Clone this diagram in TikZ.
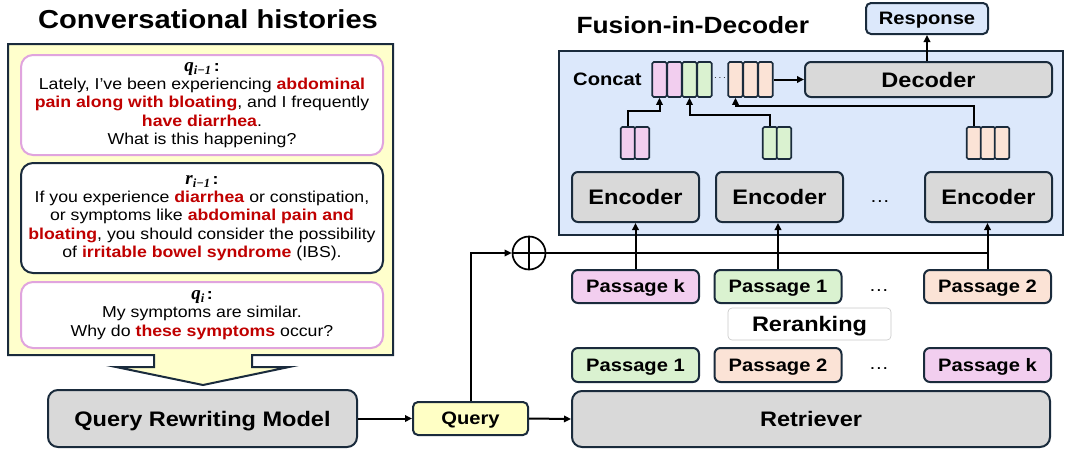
\documentclass[tikz,border=0pt]{standalone}
\usepackage{fontspec}
\setmainfont{Liberation Sans}[FakeStretch=1.12]
\newfontfamily\serifbi{Liberation Serif}[BoldItalicFont={* Bold Italic}]
\usetikzlibrary{arrows.meta}
\definecolor{darkb}{HTML}{1A2B3C}
\definecolor{yellowp}{HTML}{FFFFCC}
\definecolor{queryf}{HTML}{FFFFC5}
\definecolor{bluef}{HTML}{DCE8FB}
\definecolor{grayf}{HTML}{D9D9D9}
\definecolor{pinkf}{HTML}{F2CEEF}
\definecolor{greenf}{HTML}{DAF2D0}
\definecolor{orangef}{HTML}{FBE3D6}
\definecolor{pinkb}{HTML}{E0A4DE}
\definecolor{redt}{HTML}{C00000}
\definecolor{rerankb}{HTML}{C8C8C8}
\newcommand{\redb}[1]{\textcolor{redt}{\textbf{#1}}}
\newcommand{\qlab}[2]{{\fontsize{19}{18.3}\selectfont\serifbi\bfseries\itshape #1}\raisebox{-3pt}{\fontsize{12.5}{14}\selectfont\serifbi\bfseries\itshape #2}\,\textbf{:}}
\begin{document}
\begin{tikzpicture}[x=1pt,y=-1pt,
  box/.style={draw=darkb, line width=2pt, rounded corners=6pt, inner sep=0pt, text depth=0pt},
  small/.style={font=\fontsize{18}{20}\selectfont\bfseries, text height=12.9pt},
  big/.style={font=\fontsize{21}{24}\selectfont\bfseries, text height=15pt},
  body/.style={draw, line width=2pt, fill=white, rounded corners=12pt, inner sep=0pt,
    align=center, minimum width=362pt, font=\fontsize{15.8}{18.3}\selectfont},
  cellb/.style={draw=darkb, line width=1.7pt, rounded corners=1.5pt, inner sep=0pt,
    minimum width=14.5pt},
  arr/.style={line width=2pt, draw=black, -{Triangle[length=7pt,width=6.5pt]}},
  ln/.style={line width=2pt, draw=black},
  dots/.style={font=\fontsize{18}{20}\selectfont, text height=9pt, text depth=0pt, inner sep=0pt}
]
\useasboundingbox (0,0) rectangle (1065,448);

% ---------- left: conversational histories ----------
\node[anchor=base, font=\fontsize{26}{30}\selectfont\bfseries] (t1) at (208,28) {Conversational histories};

\draw[draw=darkb, fill=yellowp, line width=2pt]
  (8,44) -- (393,44) -- (393,355) -- (252,355) -- (252,367) -- (289,367)
  -- (203,385) -- (116,367) -- (154,367) -- (154,355) -- (8,355) -- cycle;

\node[body, draw=pinkb, minimum height=100pt] (qprev) at (202,105)
 {\qlab{q}{i−1}\\
  Lately, I’ve been experiencing \redb{abdominal}\\
  \redb{pain along with bloating}, and I frequently\\
  \redb{have diarrhea}.\\
  What is this happening?};

\node[body, draw=darkb, minimum height=110pt] (rprev) at (202,218)
 {\qlab{r}{i−1}\\
  If you experience \redb{diarrhea} or constipation,\\
  or symptoms like \redb{abdominal pain and}\\
  \redb{bloating}, you should consider the possibility\\
  of \redb{irritable bowel syndrome} (IBS).};

\node[body, draw=pinkb, minimum height=66pt] (qcur) at (202,315)
 {\qlab{q}{i}\\
  My symptoms are similar.\\
  Why do \redb{these symptoms} occur?};

\node[box, big, fill=grayf, rounded corners=10pt, minimum width=309pt, minimum height=57pt] (qrm) at (202.5,418.5) {Query Rewriting Model};

% ---------- query / retriever ----------
\node[box, small, fill=queryf, rounded corners=5pt, minimum width=115pt, minimum height=33pt] (query) at (470.5,418.5) {Query};
\node[box, big, fill=grayf, rounded corners=10pt, minimum width=478pt, minimum height=56pt] (retr) at (811,419) {Retriever};

\node[box, small, fill=greenf, minimum width=127pt, minimum height=34pt] (b1) at (635.5,365) {Passage 1};
\node[box, small, fill=orangef, minimum width=127pt, minimum height=34pt] (b2) at (778,365) {Passage 2};
\node[dots] (bd) at (879,365) {…};
\node[box, small, fill=pinkf, minimum width=127pt, minimum height=34pt] (bk) at (987.5,365) {Passage k};

\node[box, big, draw=rerankb, line width=0.6pt, fill=white, rounded corners=4pt, minimum width=163pt, minimum height=32pt] (rerank) at (809.5,324) {Reranking};

\node[box, small, fill=pinkf, minimum width=127pt, minimum height=33pt] (a1) at (635.5,286.5) {Passage k};
\node[box, small, fill=greenf, minimum width=127pt, minimum height=33pt] (a2) at (778,286.5) {Passage 1};
\node[dots] (ad) at (879,286.5) {…};
\node[box, small, fill=orangef, minimum width=127pt, minimum height=33pt] (a3) at (987.5,286.5) {Passage 2};

% ---------- fusion-in-decoder ----------
\node[anchor=base west, font=\fontsize{23.5}{26}\selectfont\bfseries] (t2) at (573,33) {Fusion-in-Decoder};
\node[draw=darkb, fill=bluef, line width=2pt, inner sep=0pt, minimum width=504pt, minimum height=184pt] (fid) at (811,143) {};

\node[box, small, fill=bluef, rounded corners=5pt, minimum width=122pt, minimum height=31pt] (resp) at (927,18.5) {Response};
\node[box, big, fill=grayf, minimum width=247pt, minimum height=35pt] (dec) at (928.5,79.5) {Decoder};
\node[anchor=west, small, text depth=0pt, inner sep=0pt] (concat) at (573,79.5) {Concat};

\node[box, big, fill=grayf, minimum width=127pt, minimum height=50pt] (e1) at (635.5,197) {Encoder};
\node[box, big, fill=grayf, minimum width=127pt, minimum height=50pt] (e2) at (779.5,197) {Encoder};
\node[dots] (ed) at (880,198) {…};
\node[box, big, fill=grayf, minimum width=127pt, minimum height=50pt] (e3) at (988.5,197) {Encoder};

% concat cells
\node[cellb, fill=pinkf, minimum height=35pt] (c1) at (659.5,79.5) {};
\node[cellb, fill=pinkf, minimum height=35pt] (c2) at (674.5,79.5) {};
\node[cellb, fill=greenf, minimum height=35pt] (c3) at (689.5,79.5) {};
\node[cellb, fill=greenf, minimum height=35pt] (c4) at (704.5,79.5) {};
\node[font=\fontsize{10}{12}\selectfont] (cd) at (720,78) {$\cdots$};
\node[cellb, fill=orangef, minimum height=35pt] (c5) at (735.5,79.5) {};
\node[cellb, fill=orangef, minimum height=35pt] (c6) at (750.5,79.5) {};
\node[cellb, fill=orangef, minimum height=35pt] (c7) at (765.5,79.5) {};

% encoder output vectors
\node[cellb, fill=pinkf, minimum height=32pt] (p1) at (628,143) {};
\node[cellb, fill=pinkf, minimum height=32pt] (p2) at (642,143) {};
\node[cellb, fill=greenf, minimum height=32pt] (g1) at (770,143) {};
\node[cellb, fill=greenf, minimum height=32pt] (g2) at (784,143) {};
\node[cellb, fill=orangef, minimum height=32pt] (o1) at (974,143) {};
\node[cellb, fill=orangef, minimum height=32pt] (o2) at (988,143) {};
\node[cellb, fill=orangef, minimum height=32pt] (o3) at (1002,143) {};

% arrows in fusion block
\draw[arr] (p1.north) -- ++(0,-15) -| (c1.south);
\draw[arr] (g1.north) -- ++(0,-11) -| (c3.south);
\draw[arr] (o1.north) -- ++(0,-20) -| (c5.south);
\draw[arr] (c7.east) -- (dec.west);
\draw[arr] (dec.north -| resp.south) -- (resp.south);

% plus node
\node[draw, circle, line width=1.7pt, minimum size=33pt, inner sep=0pt] (plus) at (529,253) {};
\draw[line width=1.7pt] (plus.north) -- (plus.south) (plus.west) -- (plus.east);

% connectors
\draw[arr] (qrm.east) -- (query.west);
\draw[arr] (query.east) -- (retr.west);
\draw[arr] (query.north) |- (plus.west);
\coordinate (hend) at (a3.north |- plus.east);
\draw[ln] (plus.east) -- (hend);
\draw[arr] (a1.north) -- (a1.north |- e1.south);
\draw[arr] (a2.north) -- (a2.north |- e2.south);
\draw[arr] (a3.north) -- (a3.north |- e3.south);
\end{tikzpicture}
\end{document}
